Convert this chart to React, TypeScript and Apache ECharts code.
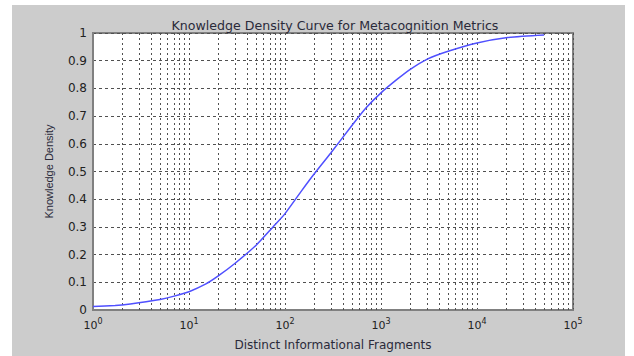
import React, { useEffect, useRef } from "react";
import * as echarts from "echarts";

const titleText = "Knowledge Density Curve for Metacognition Metrics";
const xAxisName = "Distinct Informational Fragments";
const yAxisName = "Knowledge Density";

// fragments (x) and knowledge density (y)
const fragments = [1, 1.7, 2, 3, 5, 7, 10, 15, 20, 30, 50, 75, 100, 150, 200, 300, 500, 700, 1000, 1500, 2000, 3000, 5000, 10000, 20000, 50000];
const density = [0.013, 0.016, 0.018, 0.026, 0.038, 0.05, 0.066, 0.094, 0.122, 0.168, 0.234, 0.3, 0.348, 0.432, 0.49, 0.567, 0.667, 0.73, 0.784, 0.835, 0.868, 0.905, 0.934, 0.964, 0.983, 0.993];

// minor log grid positions
const minorTicks = [
  2, 3, 4, 5, 6, 7, 8, 9,
  20, 30, 40, 50, 60, 70, 80, 90,
  200, 300, 400, 500, 600, 700, 800, 900,
  2000, 3000, 4000, 5000, 6000, 7000, 8000, 9000,
  20000, 30000, 40000, 50000, 60000, 70000, 80000, 90000,
];

const WIDE = "'DejaVu Sans', Verdana, sans-serif";
const NARROW = "'Liberation Sans', Arial, sans-serif";
const GRID_COLOR = "#505050";
const TEXT = "#2a2a3a";

export default function App() {
  const ref = useRef<HTMLDivElement>(null);

  useEffect(() => {
    document.body.style.margin = "0";
    const chart = echarts.init(ref.current!, null, { renderer: "svg" });
    const data = fragments.map((x, i) => [x, density[i]]);
    chart.setOption({
      animation: false,
      backgroundColor: "transparent",
      title: {
        text: titleText,
        left: 330,
        top: 14,
        textAlign: "center",
        textStyle: { fontFamily: WIDE, fontSize: 12.6, fontWeight: "normal", color: TEXT },
      },
      grid: {
        left: 93,
        right: 61,
        top: 33,
        bottom: 39,
        show: true,
        backgroundColor: "#ffffff",
        borderColor: "#808080",
        borderWidth: 2,
      },
      xAxis: {
        type: "log",
        logBase: 10,
        min: 1,
        max: 100000,
        splitNumber: 5,
        name: xAxisName,
        nameLocation: "middle",
        nameGap: 29,
        nameTextStyle: { fontFamily: WIDE, fontSize: 12, color: TEXT },
        axisLine: { show: true, lineStyle: { color: "#808080", width: 2 } },
        axisTick: { show: false },
        axisLabel: {
          margin: 7,
          formatter: (v: number) => `{b|10}{s|${Math.round(Math.log10(v))}}`,
          rich: {
            b: { fontFamily: WIDE, fontSize: 11, color: "#222" },
            s: { fontFamily: WIDE, fontSize: 8, color: "#222", padding: [0, 0, 9, 0] },
          },
        },
        splitLine: { show: true, lineStyle: { color: GRID_COLOR, type: [2, 3], width: 1 } },
      },
      yAxis: {
        type: "value",
        min: 0,
        max: 1,
        interval: 0.1,
        name: yAxisName,
        nameLocation: "middle",
        nameGap: 39,
        nameTextStyle: { fontFamily: NARROW, fontSize: 11, color: TEXT },
        axisLine: { show: true, lineStyle: { color: "#808080", width: 2 } },
        axisTick: { show: false },
        axisLabel: {
          margin: 6,
          fontFamily: WIDE,
          fontSize: 12,
          color: "#222",
          formatter: (v: number) => (Math.abs(v) < 1e-9 ? "0" : Math.abs(v - 1) < 1e-9 ? "1" : v.toFixed(1)),
        },
        splitLine: { show: true, lineStyle: { color: GRID_COLOR, type: [3, 3], width: 1 } },
      },
      series: [
        {
          type: "line",
          data,
          showSymbol: false,
          smooth: 0.25,
          lineStyle: { color: "#5050ff", width: 1.5 },
          z: 5,
          markLine: {
            silent: true,
            symbol: ["none", "none"],
            label: { show: false },
            lineStyle: { color: GRID_COLOR, type: [2, 3], width: 1 },
            data: minorTicks.map((v) => ({ xAxis: v })),
          },
        },
      ],
    });
    return () => chart.dispose();
  }, []);

  return (
    <div style={{ position: "relative", width: 634, height: 356, background: "#ffffff", overflow: "hidden" }}>
      <div style={{ position: "absolute", left: 12, top: 5, width: 613, height: 351, background: "#cccccc" }} />
      <div ref={ref} style={{ position: "absolute", left: 0, top: 0, width: 634, height: 356 }} />
    </div>
  );
}
